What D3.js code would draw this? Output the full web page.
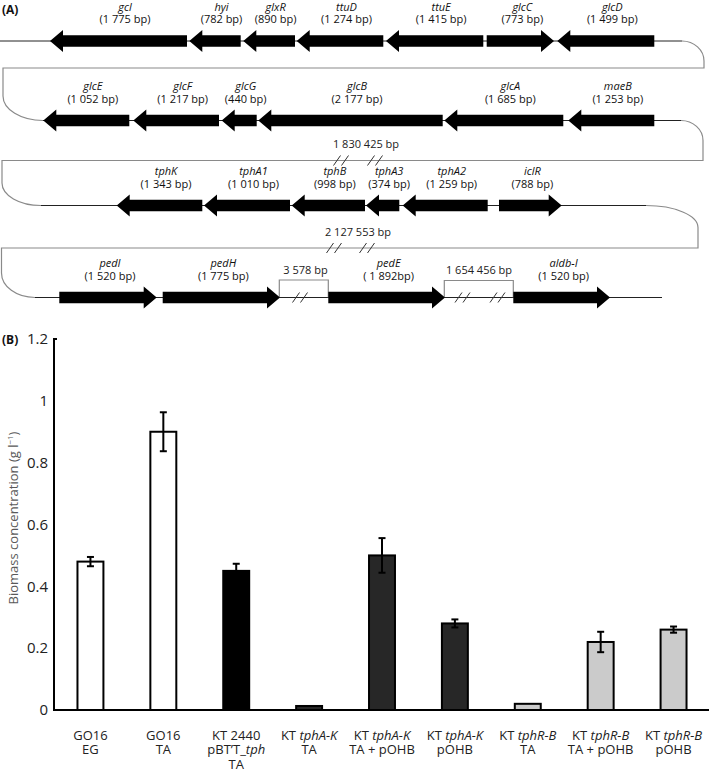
<!DOCTYPE html>
<html><head><meta charset="utf-8">
<script src="https://cdn.jsdelivr.net/npm/d3@7"></script>
<style>body{margin:0;background:#fff} svg{display:block;font-family:"Open Sans",sans-serif}</style>
</head><body><svg id="c" width="709" height="772"></svg>
<script>
// ---------------- Panel A data (gene map, schematic map units) ----------------
const geneNames = ["gcl","hyi","glxR","ttuD","ttuE","glcC","glcD",
  "glcE","glcF","glcG","glcB","glcA","maeB",
  "tphK","tphA1","tphB","tphA3","tphA2","iclR",
  "pedI","pedH","pedE","aldb-I"];
const geneSizes = ["(1 775 bp)","(782 bp)","(890 bp)","(1 274 bp)","(1 415 bp)","(773 bp)","(1 499 bp)",
  "(1 052 bp)","(1 217 bp)","(440 bp)","(2 177 bp)","(1 685 bp)","(1 253 bp)",
  "(1 343 bp)","(1 010 bp)","(998 bp)","(374 bp)","(1 259 bp)","(788 bp)",
  "(1 520 bp)","(1 775 bp)","( 1 892bp)","(1 520 bp)"];
const geneRow = [1,1,1,1,1,1,1, 2,2,2,2,2,2, 3,3,3,3,3,3, 4,4,4,4];
const geneFrom = [50,189.3,243.3,296.7,386,486.7,557.3,
  43.3,133.3,221.7,258.3,444.3,568.3,
  116.7,204,291.7,366,402.7,499,
  59.3,162.7,328.3,513.3];
const geneTo = [187,240.7,295,383.3,483.3,554,654.3,
  129.3,219,256.7,442.7,563.3,654.3,
  202.3,290,365,399.3,487.7,561.7,
  156.7,280,445,610];
const geneStrand = ["-","-","-","-","-","+","-",
  "-","-","-","-","-","-",
  "-","-","-","-","-","+",
  "+","+","+","+"];
const gapLabels = ["1 830 425 bp","2 127 553 bp","3 578 bp","1 654 456 bp"];

// ---------------- Panel B data ----------------
const categoryLines = [
  ["GO16","EG"],
  ["GO16","TA"],
  ["KT 2440","pBT’T_*tph*","TA"],
  ["KT *tphA-K*","TA"],
  ["KT *tphA-K*","TA + pOHB"],
  ["KT *tphA-K*","pOHB"],
  ["KT *tphR-B*","TA"],
  ["KT *tphR-B*","TA + pOHB"],
  ["KT *tphR-B*","pOHB"]
];
const biomass    = [0.48, 0.90, 0.45, 0.013, 0.50, 0.28, 0.02, 0.22, 0.26];
const biomassErr = [0.015,0.063,0.023,0,     0.056,0.013,0,    0.033,0.010];
const strainGroup = ["GO16","GO16","KT2440","tphA-K","tphA-K","tphA-K","tphR-B","tphR-B","tphR-B"];
const yTicks = [0,0.2,0.4,0.6,0.8,1,1.2];
const yTickLabels = ["0","0.2","0.4","0.6","0.8","1","1.2"];

const svg = d3.select("#c");

// ================= Panel A =================
const gA = svg.append("g");
const mapX = d3.scaleLinear().domain([0,709]).range([0,709]);
const rowY = d3.scaleOrdinal().domain([1,2,3,4]).range([41,120.5,205.5,297.5]);

gA.append("text").attr("x",2).attr("y",13.5).attr("font-size",12).attr("font-weight","bold").attr("fill","#111").text("(A)");

// backbones (black)
const backbone = [[1,0,682],[2,43,681],[3,41,646],[4,35,662]];
gA.selectAll("line.bb").data(backbone).join("line")
  .attr("x1",d=>mapX(d[1])).attr("x2",d=>mapX(d[2]))
  .attr("y1",d=>rowY(d[0])).attr("y2",d=>rowY(d[0]))
  .attr("stroke","#222").attr("stroke-width",1);

// connectors (gray)
const conn = [
  `M${mapX(682)},${rowY(1)} A22 20 0 0 1 ${mapX(704)},${rowY(1)+20} V68 H${mapX(3)} V96 A40 24.5 0 0 0 ${mapX(43)},${rowY(2)}`,
  `M${mapX(681)},${rowY(2)} A22 20 0 0 1 ${mapX(703)},${rowY(2)+20} V160.5 H${mapX(2)} V183 A39 22.5 0 0 0 ${mapX(41)},${rowY(3)}`,
  `M${mapX(646)},${rowY(3)} A52 22 0 0 1 ${mapX(698)},${rowY(3)+22} V248 H${mapX(1.5)} V273 A33.5 24.5 0 0 0 ${mapX(35)},${rowY(4)}`,
  `M${mapX(279.3)},${rowY(4)} V280 H${mapX(328.3)} V${rowY(4)}`,
  `M${mapX(444.3)},${rowY(4)} V280.5 H${mapX(513.3)} V${rowY(4)}`
];
gA.selectAll("path.conn").data(conn).join("path").attr("d",d=>d)
  .attr("fill","none").attr("stroke","#8a8a8a").attr("stroke-width",1.2);

// break marks "//"
const breaks = [[341,160.5],[375,160.5],[334,248],[367,248],[300,rowY(4)],[462.5,rowY(4)],[497.5,rowY(4)]];
breaks.forEach(([cx,cy])=>{
  [-4,4].forEach(o=>{
    gA.append("line").attr("x1",mapX(cx+o)-3.5).attr("y1",cy+5).attr("x2",mapX(cx+o)+3.5).attr("y2",cy-5)
      .attr("stroke","#333").attr("stroke-width",1);
  });
});
const gapPos = [[366,148],[358,236],[305.5,274],[479,274]];
gA.selectAll("text.gap").data(gapLabels).join("text")
  .attr("x",(d,i)=>mapX(gapPos[i][0])).attr("y",(d,i)=>gapPos[i][1])
  .attr("text-anchor","middle").attr("font-size",11).attr("fill","#222").text(d=>d);

// gene arrows
function arrow(x0,x1,y,strand){
  const hl=Math.min(13,(x1-x0)*0.5), bh=5.8, hh=11;
  if(strand==="-"){const b=x0+hl;return `M${x0},${y}L${b},${y-hh}L${b},${y-bh}L${x1},${y-bh}L${x1},${y+bh}L${b},${y+bh}L${b},${y+hh}Z`;}
  const b=x1-hl;return `M${x1},${y}L${b},${y-hh}L${b},${y-bh}L${x0},${y-bh}L${x0},${y+bh}L${b},${y+bh}L${b},${y+hh}Z`;
}
const genes = geneNames.map((n,i)=>({name:n,size:geneSizes[i],row:geneRow[i],x0:mapX(geneFrom[i]),x1:mapX(geneTo[i]),s:geneStrand[i]}));
gA.selectAll("path.gene").data(genes).join("path")
  .attr("d",d=>arrow(d.x0,d.x1,rowY(d.row),d.s)).attr("fill","#000");
function labelX(d){ return d.s==="-" ? (d.x0+13+d.x1)/2 : (d.x0+d.x1)/2+2; }
const gl = gA.selectAll("text.gl").data(genes).join("text")
  .attr("text-anchor","middle").attr("font-size",11).attr("fill","#111");
gl.append("tspan").attr("x",labelX).attr("y",d=>rowY(d.row)-30.5).attr("font-style","italic").text(d=>d.name);
gl.append("tspan").attr("x",labelX).attr("y",d=>rowY(d.row)-18).text(d=>d.size);

// ================= Panel B =================
const gB = svg.append("g");
gB.append("text").attr("x",2).attr("y",343.5).attr("font-size",12).attr("font-weight","bold").attr("fill","#111").text("(B)");

const x = d3.scaleBand().domain(d3.range(categoryLines.length)).range([54,710]).paddingInner(0.644).paddingOuter(0.322);
const y = d3.scaleLinear().domain([0,1.2]).range([710,339]);
const fillOf = d3.scaleOrdinal().domain(["GO16","KT2440","tphA-K","tphR-B"]).range(["#ffffff","#000000","#272727","#cbcbcb"]);

const yAxis = d3.axisLeft(y).tickValues(yTicks).tickFormat((d,i)=>yTickLabels[i]).tickSize(0).tickPadding(6);
const ya = gB.append("g").attr("transform","translate(54,0)").call(yAxis);
ya.select(".domain").remove();
ya.selectAll("text").attr("font-size",15).attr("font-family","Open Sans").attr("fill","#222");

const bars = biomass.map((v,i)=>({i,v,e:biomassErr[i],g:strainGroup[i]}));
gB.selectAll("rect.bar").data(bars).join("rect")
  .attr("x",d=>x(d.i)).attr("y",d=>y(d.v)).attr("width",x.bandwidth()).attr("height",d=>y(0)-y(d.v))
  .attr("fill",d=>fillOf(d.g)).attr("stroke","#000").attr("stroke-width",2);

// axes lines
gB.append("line").attr("x1",54).attr("x2",54).attr("y1",y(1.2)).attr("y2",y(0)+1).attr("stroke","#000").attr("stroke-width",2);
gB.append("line").attr("x1",53).attr("x2",57).attr("y1",y(1.2)).attr("y2",y(1.2)).attr("stroke","#000").attr("stroke-width",2);
gB.append("line").attr("x1",53).attr("x2",709).attr("y1",y(0)).attr("y2",y(0)).attr("stroke","#000").attr("stroke-width",2);

// error bars
const eb = bars.filter(d=>d.e>0);
const cx = d=>x(d.i)+x.bandwidth()/2;
gB.selectAll("line.ev").data(eb).join("line").attr("x1",cx).attr("x2",cx)
  .attr("y1",d=>y(d.v+d.e)).attr("y2",d=>y(d.v-d.e)).attr("stroke","#000").attr("stroke-width",2);
[1,-1].forEach(s=>{
  gB.selectAll(null).data(eb).join("line").attr("x1",d=>cx(d)-3.5).attr("x2",d=>cx(d)+3.5)
    .attr("y1",d=>y(d.v+s*d.e)).attr("y2",d=>y(d.v+s*d.e)).attr("stroke","#000").attr("stroke-width",2);
});

// category labels (multi-line, italic segments marked with *)
const lab = gB.selectAll("text.cat").data(categoryLines).join("text")
  .attr("text-anchor","middle").attr("font-size",13).attr("fill","#222");
lab.each(function(lines,i){
  const t = d3.select(this);
  lines.forEach((ln,j)=>{
    const line = t.append("tspan").attr("x",cx({i})).attr("y",739.5+j*14.8);
    ln.split("*").forEach((p,k)=>{
      if(!p) return;
      const ts = line.append("tspan").text(p);
      if(k%2===1) ts.attr("font-style","italic");
    });
  });
});

// y title
const yt = gB.append("text").attr("transform","translate(18,518) rotate(-90)")
  .attr("text-anchor","middle").attr("font-size",13).attr("fill","#595959");
yt.append("tspan").text("Biomass concentration (g l");
yt.append("tspan").attr("font-size",8).attr("dy",-5).text("−1");
yt.append("tspan").attr("dy",5).text(")");
</script></body></html>
